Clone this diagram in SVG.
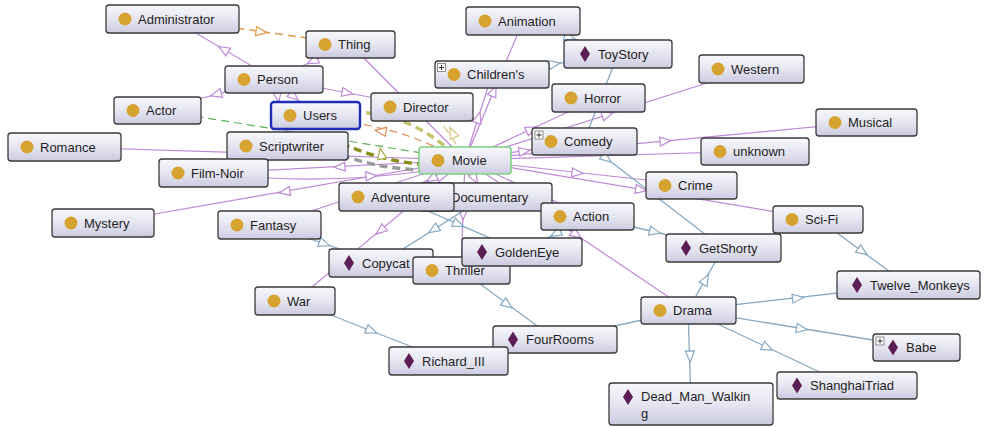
<svg xmlns="http://www.w3.org/2000/svg" xmlns:xlink="http://www.w3.org/1999/xlink" width="984" height="428" viewBox="0 0 984 428">
<defs>
<linearGradient id="g" x1="0" y1="0" x2="0" y2="1">
<stop offset="0" stop-color="#f7f7fc"/>
<stop offset="0.5" stop-color="#e6e6f1"/>
<stop offset="1" stop-color="#cbcbe0"/>
</linearGradient>
<path id="ah" d="M5,0 L-6,-4.5 L-6,4.5 Z"/>
<path id="dm" d="M0,-8 L5,0 L0,8 L-5,0 Z"/>
</defs>
<style>
.n rect.b{fill:url(#g);stroke:#3a3a3a;stroke-width:1.3}
text{font-family:"Liberation Sans",Arial,sans-serif;font-size:13px;fill:#1e1e1e}
.ci{fill:#d6a331}
.di{fill:#5c1f55}
.pl{fill:#fff;stroke:#777;stroke-width:0.8}
.pls{stroke:#333;stroke-width:1}
.ep{stroke:#bf88d6;stroke-width:1.2;fill:none}
.eb{stroke:#86a9c2;stroke-width:1.3;fill:none}
.ap{fill:#fff;stroke:#bf88d6;stroke-width:1.2}
.ab{fill:#fff;stroke:#86a9c2;stroke-width:1.2}
.dash{fill:none;stroke-dasharray:8 5}
</style>
<rect width="984" height="428" fill="#fff"/>
<g id="connectors">
<!-- pink subclass edges -->
<line class="ep" x1="274" y1="79" x2="172" y2="19"/>
<line class="ep" x1="274" y1="79" x2="157" y2="110"/>
<line class="ep" x1="274" y1="79" x2="422" y2="107"/>
<line class="ep" x1="350" y1="44" x2="274" y2="79"/>
<line class="ep" x1="274" y1="79" x2="315" y2="115"/>
<line class="ep" x1="274" y1="79" x2="287" y2="146"/>
<line class="ep" x1="350" y1="44" x2="465" y2="160"/>
<line class="ep" x1="465" y1="160" x2="523" y2="21"/>
<line class="ep" x1="465" y1="160" x2="492" y2="74"/>
<line class="ep" x1="465" y1="160" x2="598" y2="98"/>
<line class="ep" x1="465" y1="160" x2="751" y2="69"/>
<line class="ep" x1="465" y1="160" x2="584" y2="141"/>
<line class="ep" x1="465" y1="160" x2="866" y2="122"/>
<line class="ep" x1="465" y1="160" x2="755" y2="151"/>
<line class="ep" x1="465" y1="160" x2="691" y2="185"/>
<line class="ep" x1="465" y1="160" x2="818" y2="219"/>
<line class="ep" x1="465" y1="160" x2="64" y2="147"/>
<line class="ep" x1="465" y1="160" x2="213" y2="173"/>
<line class="ep" x1="465" y1="160" x2="103" y2="223"/>
<line class="ep" x1="465" y1="160" x2="269" y2="225"/>
<line class="ep" x1="465" y1="160" x2="396" y2="197"/>
<line class="ep" x1="465" y1="160" x2="485" y2="197"/>
<line class="ep" x1="465" y1="160" x2="461" y2="270"/>
<line class="ep" x1="465" y1="160" x2="295" y2="301"/>
<line class="ep" x1="465" y1="160" x2="587" y2="216"/>
<line class="ep" x1="465" y1="160" x2="688" y2="310"/>
<path class="ep" d="M268,178 Q345,182 425,171"/>
<use href="#ah" class="ap" transform="translate(223,49) rotate(-149.5)"/>
<use href="#ah" class="ap" transform="translate(215.5,94.5) rotate(165)"/>
<use href="#ah" class="ap" transform="translate(348,93) rotate(10.7)"/>
<use href="#ah" class="ap" transform="translate(312,61.5) rotate(155)"/>
<use href="#ah" class="ap" transform="translate(294.5,97) rotate(41)"/>
<use href="#ah" class="ap" transform="translate(278,97) rotate(79)"/>
<use href="#ah" class="ap" transform="translate(494,90.5) rotate(-67.4)"/>
<use href="#ah" class="ap" transform="translate(478.5,117) rotate(-72.5)"/>
<use href="#ah" class="ap" transform="translate(532,129) rotate(-24.9)"/>
<use href="#ah" class="ap" transform="translate(608,114.5) rotate(-17.6)"/>
<use href="#ah" class="ap" transform="translate(525,151) rotate(-8.8)"/>
<use href="#ah" class="ap" transform="translate(666,141) rotate(-5.3)"/>
<use href="#ah" class="ap" transform="translate(578,173) rotate(6.4)"/>
<use href="#ah" class="ap" transform="translate(641.5,190) rotate(9.6)"/>
<use href="#ah" class="ap" transform="translate(339,167) rotate(177)"/>
<use href="#ah" class="ap" transform="translate(284,192) rotate(170)"/>
<use href="#ah" class="ap" transform="translate(431,179) rotate(151.6)"/>
<use href="#ah" class="ap" transform="translate(475,179) rotate(61)"/>
<use href="#ah" class="ap" transform="translate(463,215) rotate(91.8)"/>
<use href="#ah" class="ap" transform="translate(380,231) rotate(140.3)"/>
<use href="#ah" class="ap" transform="translate(577,235) rotate(34)"/>
<use href="#ah" class="ap" transform="translate(372,176) rotate(-4)"/>
<!-- blue individual edges -->
<line class="eb" x1="523" y1="21" x2="618" y2="54"/>
<line class="eb" x1="492" y1="74" x2="618" y2="54"/>
<line class="eb" x1="584" y1="141" x2="618" y2="54"/>
<line class="eb" x1="584" y1="141" x2="723" y2="248"/>
<line class="eb" x1="587" y1="216" x2="723" y2="248"/>
<line class="eb" x1="688" y1="310" x2="723" y2="248"/>
<line class="eb" x1="688" y1="310" x2="908" y2="285"/>
<line class="eb" x1="688" y1="310" x2="916" y2="347"/>
<line class="eb" x1="688" y1="310" x2="847" y2="385"/>
<line class="eb" x1="688" y1="310" x2="691" y2="404"/>
<line class="eb" x1="688" y1="310" x2="555" y2="339"/>
<line class="eb" x1="461" y1="270" x2="555" y2="339"/>
<line class="eb" x1="818" y1="219" x2="908" y2="285"/>
<line class="eb" x1="295" y1="301" x2="448" y2="361"/>
<line class="eb" x1="269" y1="225" x2="381" y2="263"/>
<line class="eb" x1="396" y1="197" x2="522" y2="252"/>
<line class="eb" x1="485" y1="197" x2="381" y2="263"/>
<line class="eb" x1="587" y1="216" x2="522" y2="252"/>
<use href="#ah" class="ab" transform="translate(570.5,37.5) rotate(19.2)"/>
<use href="#ah" class="ab" transform="translate(555,64) rotate(-9.2)"/>
<use href="#ah" class="ab" transform="translate(607,159) rotate(37.5)"/>
<use href="#ah" class="ab" transform="translate(655.5,232) rotate(13)"/>
<use href="#ah" class="ab" transform="translate(706,279) rotate(-60.8)"/>
<use href="#ah" class="ab" transform="translate(798.5,298) rotate(-6.6)"/>
<use href="#ah" class="ab" transform="translate(802.5,329) rotate(9.2)"/>
<use href="#ah" class="ab" transform="translate(768,348) rotate(25.3)"/>
<use href="#ah" class="ab" transform="translate(690,357) rotate(88.5)"/>
<use href="#ah" class="ab" transform="translate(508,305) rotate(36.4)"/>
<use href="#ah" class="ab" transform="translate(863,252) rotate(35.9)"/>
<use href="#ah" class="ab" transform="translate(372,331) rotate(21.3)"/>
<use href="#ah" class="ab" transform="translate(325,244) rotate(18.8)"/>
<use href="#ah" class="ab" transform="translate(459,224.5) rotate(23.7)"/>
<use href="#ah" class="ab" transform="translate(433,230) rotate(147.7)"/>
<use href="#ah" class="ab" transform="translate(555,234) rotate(151.5)"/>
<!-- dashed property edges -->
<line class="dash" stroke="#e39a48" stroke-width="1.5" x1="172" y1="19" x2="350" y2="44"/>
<use href="#ah" fill="#fff" stroke="#e39a48" stroke-width="1.2" transform="translate(262,32) rotate(8)"/>
<line class="dash" stroke="#5cb05c" stroke-width="1.2" x1="157" y1="110" x2="465" y2="160"/>
<path class="dash" stroke="#c4c26a" stroke-width="3.5" d="M340,112 C390,110 420,125 452,152"/>
<path class="dash" stroke="#8d8d1f" stroke-width="3.5" d="M330,138 Q385,165 440,165"/>
<path class="dash" stroke="#9b9b9b" stroke-width="3.5" d="M330,150 Q380,172 440,170"/>
<path class="dash" stroke="#e0905a" stroke-width="1.2" d="M445,152 Q400,127 330,120"/>
<use href="#ah" fill="#fff" stroke="#e0905a" stroke-width="1.2" transform="translate(380,131) rotate(188)"/>
<path class="dash" stroke="#d9c27c" stroke-width="1.2" d="M462,155 Q452,135 432,112"/>
<use href="#ah" fill="#fff" stroke="#d9c27c" stroke-width="1.2" transform="translate(452,132) rotate(-115)"/>
<use href="#ah" fill="#fff" stroke="#b0ae48" stroke-width="1.2" transform="translate(381,153) rotate(-100)"/>
</g>
<g id="node-Administrator" class="n"><rect class="b" x="106" y="5" width="133" height="28" rx="3"/><circle class="ci" cx="125" cy="19" r="6.5"/><text x="138" y="23.5">Administrator</text></g>
<g id="node-Thing" class="n"><rect class="b" x="306" y="31" width="89" height="27" rx="3"/><circle class="ci" cx="325" cy="44.5" r="6.5"/><text x="338" y="49">Thing</text></g>
<g id="node-Person" class="n"><rect class="b" x="225" y="66" width="98" height="27" rx="3"/><circle class="ci" cx="244" cy="79.5" r="6.5"/><text x="257" y="84">Person</text></g>
<g id="node-Actor" class="n"><rect class="b" x="114" y="97" width="87" height="27" rx="3"/><circle class="ci" cx="133" cy="110.5" r="6.5"/><text x="146" y="115">Actor</text></g>
<g id="node-Users" class="n"><rect class="b" x="271" y="102" width="89" height="27" rx="3" style="stroke:#1f2fb5;stroke-width:2.4"/><circle class="ci" cx="290" cy="115.5" r="6.5"/><text x="303" y="120">Users</text></g>
<g id="node-Director" class="n"><rect class="b" x="371" y="93" width="102" height="28" rx="3"/><circle class="ci" cx="390" cy="107" r="6.5"/><text x="403" y="111.5">Director</text></g>
<g id="node-Romance" class="n"><rect class="b" x="8" y="133" width="113" height="28" rx="3"/><circle class="ci" cx="27" cy="147" r="6.5"/><text x="40" y="151.5">Romance</text></g>
<g id="node-Scriptwriter" class="n"><rect class="b" x="227" y="132" width="121" height="28" rx="3"/><circle class="ci" cx="246" cy="146" r="6.5"/><text x="259" y="150.5">Scriptwriter</text></g>
<g id="node-Film-Noir" class="n"><rect class="b" x="159" y="159" width="109" height="28" rx="3"/><circle class="ci" cx="178" cy="173" r="6.5"/><text x="191" y="177.5">Film-Noir</text></g>
<g id="node-Mystery" class="n"><rect class="b" x="52" y="209" width="102" height="28" rx="3"/><circle class="ci" cx="71" cy="223" r="6.5"/><text x="84" y="227.5">Mystery</text></g>
<g id="node-Fantasy" class="n"><rect class="b" x="218" y="211" width="103" height="28" rx="3"/><circle class="ci" cx="237" cy="225" r="6.5"/><text x="250" y="229.5">Fantasy</text></g>
<g id="node-Animation" class="n"><rect class="b" x="466" y="7" width="114" height="28" rx="3"/><circle class="ci" cx="485" cy="21" r="6.5"/><text x="498" y="25.5">Animation</text></g>
<g id="node-Childrens" class="n"><rect class="b" x="435" y="61" width="114" height="27" rx="3"/><rect class="pl" x="437.5" y="63.5" width="8" height="8"/><path class="pls" d="M439,67.5h5M441.5,65v5"/><circle class="ci" cx="454" cy="74.5" r="6.5"/><text x="467" y="79">Children's</text></g>
<g id="node-ToyStory" class="n"><rect class="b" x="564" y="40" width="108" height="28" rx="3"/><use href="#dm" class="di" transform="translate(585,54)"/><text x="598" y="58.5">ToyStory</text></g>
<g id="node-Horror" class="n"><rect class="b" x="552" y="84" width="93" height="28" rx="3"/><circle class="ci" cx="571" cy="98" r="6.5"/><text x="584" y="102.5">Horror</text></g>
<g id="node-Western" class="n"><rect class="b" x="699" y="55" width="105" height="28" rx="3"/><circle class="ci" cx="718" cy="69" r="6.5"/><text x="731" y="73.5">Western</text></g>
<g id="node-Comedy" class="n"><rect class="b" x="532" y="128" width="105" height="27" rx="3"/><rect class="pl" x="535" y="131" width="8" height="8"/><path class="pls" d="M536.5,135h5M539,132.5v5"/><circle class="ci" cx="551" cy="141.5" r="6.5"/><text x="564" y="146">Comedy</text></g>
<g id="node-Musical" class="n"><rect class="b" x="816" y="109" width="101" height="27" rx="3"/><circle class="ci" cx="835" cy="122.5" r="6.5"/><text x="848" y="127">Musical</text></g>
<g id="node-unknown" class="n"><rect class="b" x="701" y="138" width="108" height="27" rx="3"/><circle class="ci" cx="720" cy="151.5" r="6.5"/><text x="733" y="156">unknown</text></g>
<g id="node-Movie" class="n"><rect class="b" x="419" y="147" width="92" height="27" rx="3" style="stroke:#7fd27f;stroke-width:1.6"/><circle class="ci" cx="438" cy="160.5" r="6.5"/><text x="452" y="165">Movie</text></g>
<g id="node-Crime" class="n"><rect class="b" x="646" y="172" width="91" height="27" rx="3"/><circle class="ci" cx="665" cy="185.5" r="6.5"/><text x="678" y="190">Crime</text></g>
<g id="node-Documentary" class="n"><rect class="b" x="419" y="183" width="133" height="28" rx="3"/><circle class="ci" cx="438" cy="197" r="6.5"/><text x="451" y="201.5">Documentary</text></g>
<g id="node-Adventure" class="n"><rect class="b" x="339" y="183" width="115" height="28" rx="3"/><circle class="ci" cx="358" cy="197" r="6.5"/><text x="371" y="201.5">Adventure</text></g>
<g id="node-Action" class="n"><rect class="b" x="541" y="203" width="93" height="27" rx="3"/><circle class="ci" cx="560" cy="216.5" r="6.5"/><text x="573" y="221">Action</text></g>
<g id="node-Sci-Fi" class="n"><rect class="b" x="773" y="206" width="90" height="27" rx="3"/><circle class="ci" cx="792" cy="219.5" r="6.5"/><text x="805" y="224">Sci-Fi</text></g>
<g id="node-GetShorty" class="n"><rect class="b" x="666" y="234" width="115" height="28" rx="3"/><use href="#dm" class="di" transform="translate(686,248)"/><text x="699" y="252.5">GetShorty</text></g>
<g id="node-Copycat" class="n"><rect class="b" x="329" y="249" width="104" height="28" rx="3"/><use href="#dm" class="di" transform="translate(349,263)"/><text x="362" y="267.5">Copycat</text></g>
<g id="node-Thriller" class="n"><rect class="b" x="413" y="257" width="97" height="27" rx="3"/><circle class="ci" cx="432" cy="270.5" r="6.5"/><text x="445" y="275">Thriller</text></g>
<g id="node-GoldenEye" class="n"><rect class="b" x="462" y="238" width="120" height="28" rx="3"/><use href="#dm" class="di" transform="translate(482,252)"/><text x="495" y="256.5">GoldenEye</text></g>
<g id="node-Twelve_Monkeys" class="n"><rect class="b" x="837" y="271" width="143" height="28" rx="3"/><use href="#dm" class="di" transform="translate(857,285)"/><text x="870" y="289.5">Twelve_Monkeys</text></g>
<g id="node-War" class="n"><rect class="b" x="255" y="287" width="80" height="28" rx="3"/><circle class="ci" cx="274" cy="301" r="6.5"/><text x="287" y="305.5">War</text></g>
<g id="node-Drama" class="n"><rect class="b" x="641" y="297" width="95" height="27" rx="3"/><circle class="ci" cx="660" cy="310.5" r="6.5"/><text x="673" y="315">Drama</text></g>
<g id="node-FourRooms" class="n"><rect class="b" x="493" y="326" width="124" height="27" rx="3"/><use href="#dm" class="di" transform="translate(513,339.5)"/><text x="526" y="344">FourRooms</text></g>
<g id="node-Richard_III" class="n"><rect class="b" x="389" y="347" width="119" height="28" rx="3"/><use href="#dm" class="di" transform="translate(409,361)"/><text x="422" y="365.5">Richard_III</text></g>
<g id="node-Babe" class="n"><rect class="b" x="873" y="334" width="87" height="27" rx="3"/><rect class="pl" x="876" y="337" width="8" height="8"/><path class="pls" d="M877.5,341h5M880,338.5v5"/><use href="#dm" class="di" transform="translate(893,347.5)"/><text x="906" y="352">Babe</text></g>
<g id="node-ShanghaiTriad" class="n"><rect class="b" x="777" y="372" width="140" height="27" rx="3"/><use href="#dm" class="di" transform="translate(797,385.5)"/><text x="810" y="390">ShanghaiTriad</text></g>
<g id="node-Dead_Man_Walking" class="n"><rect class="b" x="609" y="383" width="164" height="42" rx="3"/><use href="#dm" class="di" transform="translate(628,397)"/><text x="641" y="401">Dead_Man_Walkin</text><text x="641" y="418">g</text></g>
</svg>
